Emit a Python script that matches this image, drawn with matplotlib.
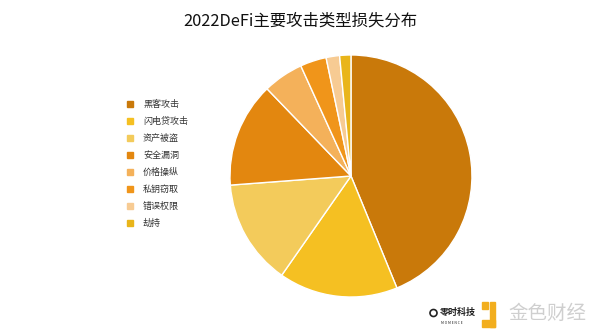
import matplotlib.pyplot as plt
from matplotlib.patches import Rectangle, Ellipse

plt.rcParams['font.family'] = ['Noto Sans CJK SC', 'DejaVu Sans']

labels = ['黑客攻击', '闪电贷攻击', '资产被盗', '安全漏洞', '价格操纵', '私钥窃取', '错误权限', '劫持']
shares = [43.8, 15.9, 14.1, 14.0, 5.4, 3.5, 1.8, 1.5]
colors = ['#C9790A', '#F5C022', '#F3CB5B', '#E3870F', '#F4B15A', '#F0951A', '#F7CB93', '#E9B51A']

W, H = 600, 332


def fx(px):
    return px / W


def fy(py):
    return 1 - py / H


fig = plt.figure(figsize=(6, 3.32), dpi=100)
fig.text(0.5, fy(21), '2022DeFi主要攻击类型损失分布', ha='center', va='center',
         fontsize=11.8, color='#111111')

ax = fig.add_axes([0.3833, 0.1054, 0.4033, 0.729])
ax.pie(shares, colors=colors, startangle=90, counterclock=False,
       wedgeprops=dict(edgecolor='white', linewidth=1.0))
ax.set_xlim(-1, 1)
ax.set_ylim(-1, 1)
ax.set_aspect('auto')

# legend drawn by hand: small squares with labels
for i, (lab, c) in enumerate(zip(labels, colors)):
    y = 104 + i * 17
    fig.patches.append(Rectangle((fx(127), fy(y + 3)), fx(6), 6 / H,
                                 transform=fig.transFigure, color=c))
    fig.text(fx(143), fy(y), lab, ha='left', va='center', fontsize=6.5, color='#333333')

# watermarks
fig.patches.append(Ellipse((fx(433.5), fy(313)), 7 / W, 7 / H, transform=fig.transFigure,
                           fill=False, edgecolor='#222222', linewidth=1.2))
fig.text(fx(440), fy(312), '零时科技', ha='left', va='center', fontsize=6.5,
         color='#222222', fontweight='bold')
fig.text(fx(441), fy(323), 'M O M E N C E', ha='left', va='center', fontsize=2.5,
         color='#222222')
for (x0, y0, w, h) in [(482, 302, 6, 7), (490, 302, 5, 25), (482, 320, 13, 7)]:
    fig.patches.append(Rectangle((fx(x0), fy(y0 + h)), w / W, h / H,
                                 transform=fig.transFigure, color='#F2AE1E'))
fig.text(fx(508), fy(313), '金色财经', ha='left', va='center', fontsize=14,
         color='#CFCFCF')

fig.savefig('out.png', dpi=100)
